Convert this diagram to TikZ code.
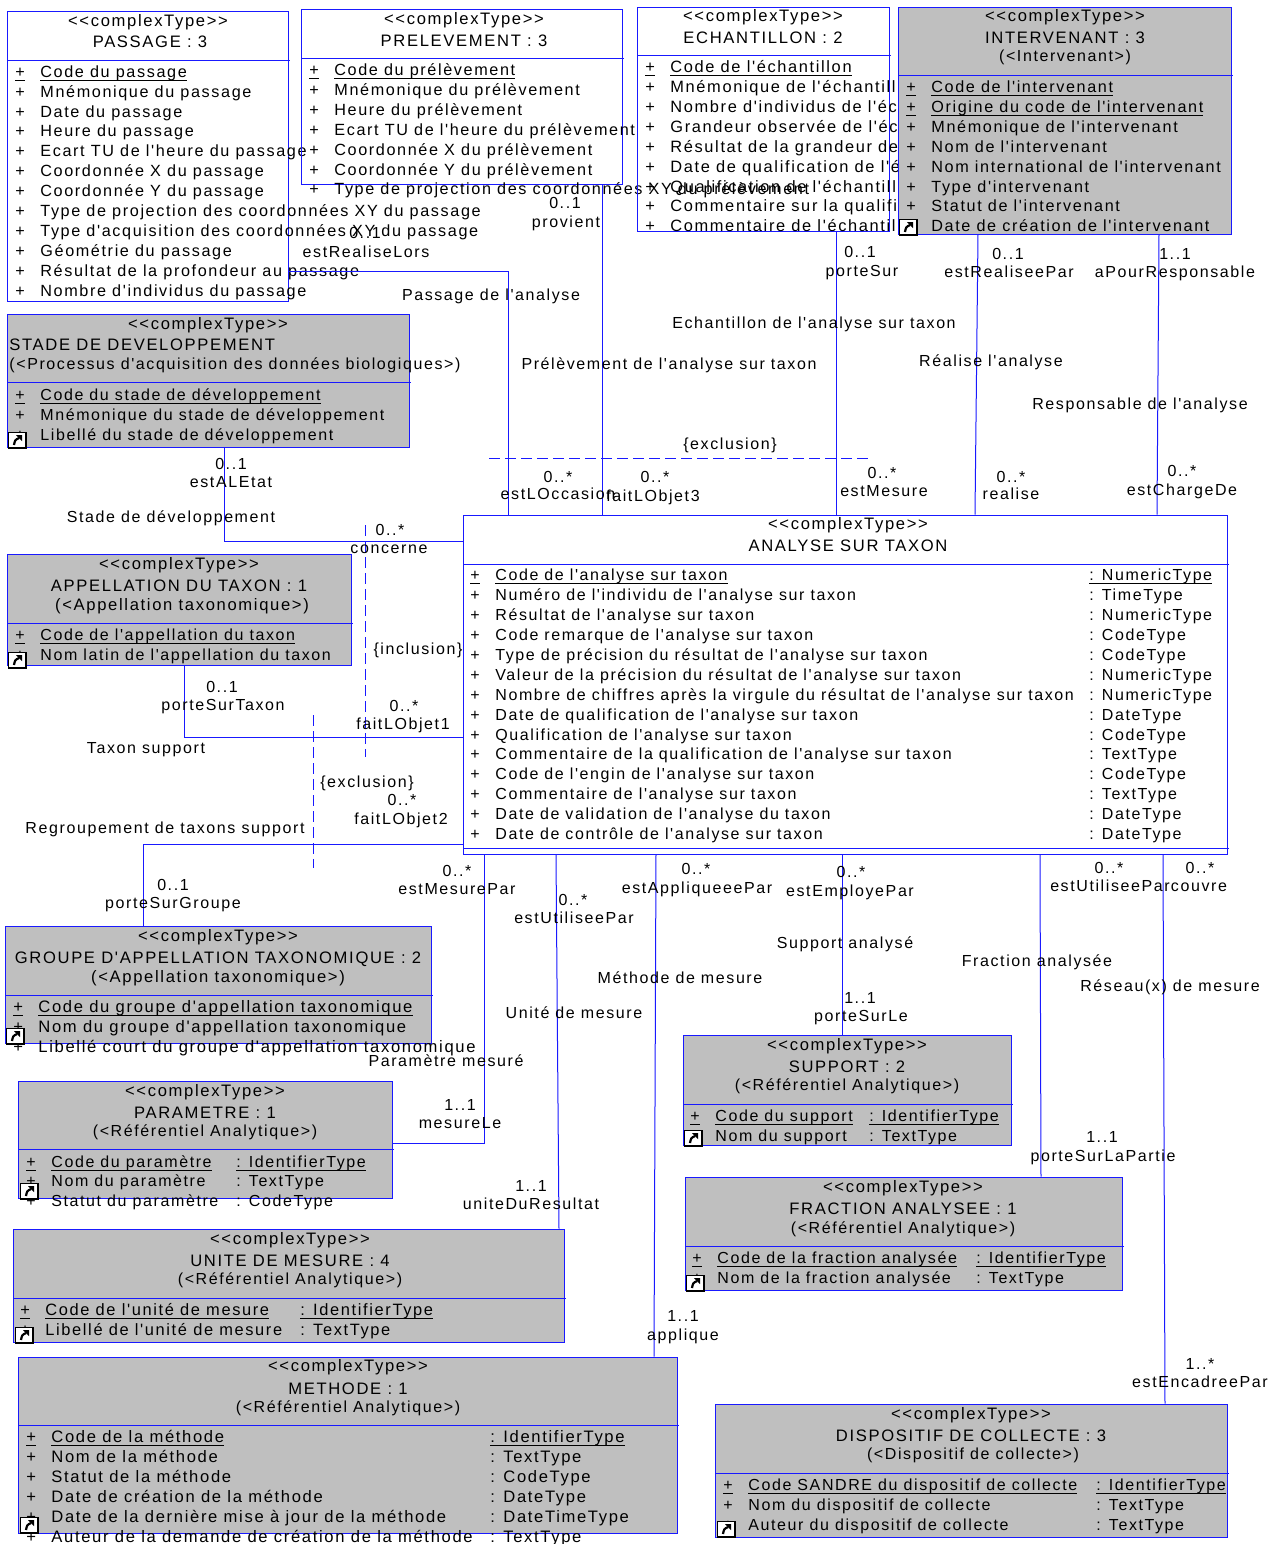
\documentclass[tikz,border=0pt]{standalone}
\usepackage{fontspec}
\setmainfont[LetterSpace=10,Ligatures=TeXOff]{Liberation Sans}
\usetikzlibrary{fit}
\definecolor{umlblue}{rgb}{0.1,0.1,1}
\definecolor{umlgray}{rgb}{0.75,0.75,0.75}
\newcommand{\ulin}[1]{\setbox0\hbox{#1}\rlap{\vrule width\wd0 height -1pt depth 1.4pt}\box0}
\tikzset{
every node/.style={font=\fontsize{8}{10}\selectfont,text=black},
uml/.style={color=umlblue,line width=0.5pt},
dashuml/.style={uml,dash pattern=on 5.5pt off 2.5pt},
whitebox/.style={draw=umlblue,line width=0.5pt,inner sep=0pt},
graybox/.style={whitebox,fill=umlgray},
lab/.style={anchor=base,inner sep=0pt,yshift=-2.8pt},
ttl/.style={lab,yshift=-0.3pt,font=\fontsize{8.3}{10}\selectfont},
attr/.style={anchor=base west,inner sep=0pt,yshift=-2.8pt},
wider/.style={attr/.append style={font=\fontsize{#1}{10}\selectfont}},
shortcut/.pic={
\draw[color=black,fill=white,line width=0.4pt] (-9,-8) rectangle (9,8);
\draw[color=black,line width=1pt] (-9,8) -- (9,8) -- (9,-8);
\fill[black] (-1,-5) -- (5,-5) -- (5,1) -- cycle;
\draw[color=black,line width=1.1pt] (2,-2) .. controls (-2,0) .. (-3,5);
}}
\begin{document}
\begin{tikzpicture}[x=0.5pt,y=-0.5pt]
\useasboundingbox (0,0) rectangle (1271,1544);
% white classes
\begin{scope}[wider=8.1]
\node[whitebox,fit={(7,11)(288,301)}] (passage) {};
\draw[uml] (7,60) -- (290,60);
\node[ttl] (passage-a) at (148,20) {<<complexType>>};
\node[ttl] (passage-b) at (150,41) {PASSAGE : 3};
\node[attr] (passage-c) at (15,72) {\ulin{+}};
\node[attr] (passage-d) at (40,72) {\ulin{Code du passage}};
\foreach \y/\lab in {92/Mnémonique du passage,112/Date du passage,131/Heure du passage,151/Ecart TU de l'heure du passage,171/Coordonnée X du passage,191/Coordonnée Y du passage,211/Type de projection des coordonnées XY du passage,231/Type d'acquisition des coordonnées XY du passage,251/Géométrie du passage,271/Résultat de la profondeur au passage,291/Nombre d'individus du passage}
{\node[attr] (passage-p\y) at (15,\y) {+};
\node[attr] (passage-r\y) at (40,\y) {\lab};}

\node[whitebox,fit={(301,9)(622,184)}] (prelevement) {};
\draw[uml] (301,58) -- (624,58);
\node[ttl] (prelevement-a) at (464,18) {<<complexType>>};
\node[ttl] (prelevement-b) at (464,40) {PRELEVEMENT : 3};
\node[attr] (prelevement-c) at (309,70) {\ulin{+}};
\node[attr] (prelevement-d) at (334,70) {\ulin{Code du prélèvement}};
\foreach \y/\lab in {90/Mnémonique du prélèvement,110/Heure du prélèvement,130/Ecart TU de l'heure du prélèvement,150/Coordonnée X du prélèvement,170/Coordonnée Y du prélèvement,189/Type de projection des coordonnées XY du prélèvement}
{\node[attr] (prelevement-p\y) at (309,\y) {+};
\node[attr] (prelevement-r\y) at (334,\y) {\lab};}
\end{scope}

\begin{scope}[wider=8.2]
\node[whitebox,fit={(637,7)(889,231)}] (echantillon) {};
\draw[uml] (637,55) -- (891,55);
\node[ttl] (echantillon-a) at (763,15) {<<complexType>>};
\node[ttl] (echantillon-b) at (763,37) {ECHANTILLON : 2};
\node[attr] (echantillon-c) at (645,67) {\ulin{+}};
\node[attr] (echantillon-d) at (670,67) {\ulin{Code de l'échantillon}};
\foreach \y/\lab in {87/Mnémonique de l'échantill,107/Nombre d'individus de l'éch,127/Grandeur observée de l'éch,147/Résultat de la grandeur de,167/Date de qualification de l'é,187/Qualification de l'échantill,206/Commentaire sur la qualifi,226/Commentaire de l'échantill}
{\node[attr] (echantillon-p\y) at (645,\y) {+};
\node[attr] (echantillon-r\y) at (670,\y) {\lab};}
\end{scope}

% gray classes
\begin{scope}[wider=8.1]
\node[graybox,fit={(898,7)(1231,234)}] (intervenant) {};
\draw[uml] (898,75) -- (1233,75);
\node[ttl] (intervenant-a) at (1065,15) {<<complexType>>};
\node[ttl] (intervenant-b) at (1065,37) {INTERVENANT : 3};
\node[lab] (intervenant-e) at (1065,56) {(<Intervenant>)};
\foreach \y/\lab in {87/Code de l'intervenant,107/Origine du code de l'intervenant}
{\node[attr] (intervenant-p\y) at (906,\y) {\ulin{+}};
\node[attr] (intervenant-r\y) at (931,\y) {\ulin{\lab}};}
\foreach \y/\lab in {127/Mnémonique de l'intervenant,147/Nom de l'intervenant,167/Nom international de l'intervenant,187/Type d'intervenant,206/Statut de l'intervenant,226/Date de création de l'intervenant}
{\node[attr] (intervenant-p\y) at (906,\y) {+};
\node[attr] (intervenant-r\y) at (931,\y) {\lab};}
\pic at (908,227) {shortcut};
\end{scope}

\node[graybox,fit={(7,314)(409,447)}] (stade) {};
\draw[uml] (7,382) -- (411,382);
\node[ttl] (stade-a) at (208,323) {<<complexType>>};
\node[attr,font=\fontsize{8.3}{10}\selectfont] (stade-b) at (9,345) {STADE DE DEVELOPPEMENT};
\node[attr] (stade-e) at (9,364) {(<Processus d'acquisition des données biologiques>)};
\node[attr] (stade-c) at (15,395) {\ulin{+}};
\node[attr] (stade-d) at (40,395) {\ulin{Code du stade de développement}};
\foreach \y/\lab in {415/Mnémonique du stade de développement,435/Libellé du stade de développement}
{\node[attr] (stade-p\y) at (15,\y) {+};
\node[attr] (stade-r\y) at (40,\y) {\lab};}
\pic at (17,440) {shortcut};

\node[graybox,fit={(7,554)(351,665)}] (appellation) {};
\draw[uml] (7,623) -- (353,623);
\node[ttl] (appellation-a) at (179,563) {<<complexType>>};
\node[ttl] (appellation-b) at (179,585) {APPELLATION DU TAXON : 1};
\node[ttl] (appellation-e) at (182,604) {(<Appellation taxonomique>)};
\node[attr] (appellation-c) at (15,635) {\ulin{+}};
\node[attr] (appellation-d) at (40,635) {\ulin{Code de l'appellation du taxon}};
\node[attr] (appellation-p) at (15,655) {+};
\node[attr] (appellation-r) at (40,655) {Nom latin de l'appellation du taxon};
\pic at (17,660) {shortcut};

\node[whitebox,fit={(463,515)(1227,854)}] (analyse) {};
\draw[uml] (463,564) -- (1229,564);
\draw[uml] (463,848) -- (1229,848);
\node[ttl] (analyse-a) at (848,523) {<<complexType>>};
\node[ttl] (analyse-b) at (848,545) {ANALYSE SUR TAXON};
\node[attr] (analyse-c) at (470,575) {\ulin{+}};
\node[attr] (analyse-d) at (495,575) {\ulin{Code de l'analyse sur taxon}};
\node[attr] (analyse-f) at (1089,575) {\ulin{: NumericType}};
\foreach \y/\lab/\typ in {595/Numéro de l'individu de l'analyse sur taxon/: TimeType,615/Résultat de l'analyse sur taxon/: NumericType,635/Code remarque de l'analyse sur taxon/: CodeType,655/Type de précision du résultat de l'analyse sur taxon/: CodeType,675/Valeur de la précision du résultat de l'analyse sur taxon/: NumericType,695/Nombre de chiffres après la virgule du résultat de l'analyse sur taxon/: NumericType,715/Date de qualification de l'analyse sur taxon/: DateType,735/Qualification de l'analyse sur taxon/: CodeType,754/Commentaire de la qualification de l'analyse sur taxon/: TextType,774/Code de l'engin de l'analyse sur taxon/: CodeType,794/Commentaire de l'analyse sur taxon/: TextType,814/Date de validation de l'analyse du taxon/: DateType,834/Date de contrôle de l'analyse sur taxon/: DateType}
{\node[attr] (analyse-p\y) at (470,\y) {+};
\node[attr] (analyse-r\y) at (495,\y) {\lab};
\node[attr] (analyse-t\y) at (1089,\y) {\typ};}

\begin{scope}[wider=8.3]
\node[graybox,fit={(5,926)(431,1043)}] (groupe) {};
\draw[uml] (5,995) -- (433,995);
\node[ttl] (groupe-a) at (218,935) {<<complexType>>};
\node[ttl] (groupe-b) at (218,957) {GROUPE D'APPELLATION TAXONOMIQUE : 2};
\node[ttl] (groupe-e) at (218,976) {(<Appellation taxonomique>)};
\node[attr] (groupe-c) at (13,1007) {\ulin{+}};
\node[attr] (groupe-d) at (38,1007) {\ulin{Code du groupe d'appellation taxonomique}};
\foreach \y/\lab in {1027/Nom du groupe d'appellation taxonomique,1047/Libellé court du groupe d'appellation taxonomique}
{\node[attr] (groupe-p\y) at (13,\y) {+};
\node[attr] (groupe-r\y) at (38,\y) {\lab};}
\pic at (15,1036) {shortcut};
\end{scope}

\node[graybox,fit={(18,1081)(392,1198)}] (parametre) {};
\draw[uml] (18,1149) -- (394,1149);
\node[ttl] (parametre-a) at (205,1090) {<<complexType>>};
\node[ttl] (parametre-b) at (205,1112) {PARAMETRE : 1};
\node[lab] (parametre-e) at (205,1131) {(<Référentiel Analytique>)};
\node[attr] (parametre-c) at (26,1162) {\ulin{+}};
\node[attr] (parametre-d) at (51,1162) {\ulin{Code du paramètre}};
\node[attr] (parametre-f) at (236,1162) {\ulin{: IdentifierType}};
\foreach \y/\lab/\typ in {1181/Nom du paramètre/: TextType,1201/Statut du paramètre/: CodeType}
{\node[attr] (parametre-p\y) at (26,\y) {+};
\node[attr] (parametre-r\y) at (51,\y) {\lab};
\node[attr] (parametre-t\y) at (236,\y) {\typ};}
\pic at (29,1191) {shortcut};

\begin{scope}[wider=8.2]
\node[graybox,fit={(13,1229)(564,1342)}] (unite) {};
\draw[uml] (13,1298) -- (566,1298);
\node[ttl] (unite-a) at (290,1238) {<<complexType>>};
\node[ttl] (unite-b) at (290,1260) {UNITE DE MESURE : 4};
\node[lab] (unite-e) at (290,1279) {(<Référentiel Analytique>)};
\node[attr] (unite-c) at (20,1310) {\ulin{+}};
\node[attr] (unite-d) at (45,1310) {\ulin{Code de l'unité de mesure}};
\node[attr] (unite-f) at (300,1310) {\ulin{: IdentifierType}};
\node[attr] (unite-p) at (20,1330) {+};
\node[attr] (unite-r) at (45,1330) {Libellé de l'unité de mesure};
\node[attr] (unite-t) at (300,1330) {: TextType};
\pic at (24,1335) {shortcut};
\end{scope}

\begin{scope}[wider=8.3]
\node[graybox,fit={(18,1357)(677,1533)}] (methode) {};
\draw[uml] (18,1425) -- (679,1425);
\node[ttl] (methode-a) at (348,1365) {<<complexType>>};
\node[ttl] (methode-b) at (348,1388) {METHODE : 1};
\node[lab] (methode-e) at (348,1407) {(<Référentiel Analytique>)};
\node[attr] (methode-c) at (26,1437) {\ulin{+}};
\node[attr] (methode-d) at (51,1437) {\ulin{Code de la méthode}};
\node[attr] (methode-f) at (490,1437) {\ulin{: IdentifierType}};
\foreach \y/\lab/\typ in {1457/Nom de la méthode/: TextType,1477/Statut de la méthode/: CodeType,1497/Date de création de la méthode/: DateType,1517/Date de la dernière mise à jour de la méthode/: DateTimeType,1537/Auteur de la demande de création de la méthode/: TextType}
{\node[attr] (methode-p\y) at (26,\y) {+};
\node[attr] (methode-r\y) at (51,\y) {\lab};
\node[attr] (methode-t\y) at (490,\y) {\typ};}
\pic at (29,1525) {shortcut};
\end{scope}

\node[graybox,fit={(683,1035)(1011,1145)}] (support) {};
\draw[uml] (683,1104) -- (1013,1104);
\node[ttl] (support-a) at (847,1044) {<<complexType>>};
\node[ttl] (support-b) at (847,1066) {SUPPORT : 2};
\node[lab] (support-e) at (847,1085) {(<Référentiel Analytique>)};
\node[attr] (support-c) at (690,1116) {\ulin{+}};
\node[attr] (support-d) at (715,1116) {\ulin{Code du support}};
\node[attr] (support-f) at (869,1116) {\ulin{: IdentifierType}};
\node[attr] (support-p) at (690,1136) {+};
\node[attr] (support-r) at (715,1136) {Nom du support};
\node[attr] (support-t) at (869,1136) {: TextType};
\pic at (693,1138) {shortcut};

\node[graybox,fit={(685,1177)(1122,1290)}] (fraction) {};
\draw[uml] (685,1246) -- (1124,1246);
\node[ttl] (fraction-a) at (903,1186) {<<complexType>>};
\node[ttl] (fraction-b) at (903,1208) {FRACTION ANALYSEE : 1};
\node[lab] (fraction-e) at (903,1228) {(<Référentiel Analytique>)};
\node[attr] (fraction-c) at (692,1258) {\ulin{+}};
\node[attr] (fraction-d) at (717,1258) {\ulin{Code de la fraction analysée}};
\node[attr] (fraction-f) at (976,1258) {\ulin{: IdentifierType}};
\node[attr] (fraction-p) at (692,1278) {+};
\node[attr] (fraction-r) at (717,1278) {Nom de la fraction analysée};
\node[attr] (fraction-t) at (976,1278) {: TextType};
\pic at (695,1283) {shortcut};

\node[graybox,fit={(715,1404)(1227,1537)}] (dispositif) {};
\draw[uml] (715,1473) -- (1229,1473);
\node[ttl] (dispositif-a) at (971,1413) {<<complexType>>};
\node[ttl] (dispositif-b) at (971,1435) {DISPOSITIF DE COLLECTE : 3};
\node[lab] (dispositif-e) at (973,1454) {(<Dispositif de collecte>)};
\node[attr] (dispositif-c) at (723,1485) {\ulin{+}};
\node[attr] (dispositif-d) at (748,1485) {\ulin{Code SANDRE du dispositif de collecte}};
\node[attr] (dispositif-f) at (1096,1485) {\ulin{: IdentifierType}};
\foreach \y/\lab/\typ in {1505/Nom du dispositif de collecte/: TextType,1525/Auteur du dispositif de collecte/: TextType}
{\node[attr] (dispositif-p\y) at (723,\y) {+};
\node[attr] (dispositif-r\y) at (748,\y) {\lab};
\node[attr] (dispositif-t\y) at (1096,\y) {\typ};}
\pic at (726,1529) {shortcut};

% connectors
\draw[uml] (passage.east |- 0,271) -| (analyse.north -| 508,0);
\draw[uml] (prelevement.south -| 602,0) -- (analyse.north -| 602,0);
\draw[uml] (echantillon.south -| 836,0) -- (analyse.north -| 836,0);
\draw[uml] (intervenant.south -| 978,0) -- (analyse.north -| 975,0);
\draw[uml] (intervenant.south -| 1159,0) -- (analyse.north -| 1157,0);
\draw[uml] (stade.south -| 224,0) |- (analyse.west |- 0,541);
\draw[uml] (appellation.south -| 184,0) |- (analyse.west |- 0,737);
\draw[uml] (groupe.north -| 143,0) |- (analyse.west |- 0,844);
\draw[uml] (parametre.east |- 0,1143) -| (analyse.south -| 484,0);
\draw[uml] (unite.north -| 559,0) -- (analyse.south -| 556,0);
\draw[uml] (methode.north -| 654,0) -- (analyse.south -| 656,0);
\draw[uml] (support.north -| 842,0) -- (analyse.south -| 842,0);
\draw[uml] (fraction.north -| 1041,0) -- (analyse.south -| 1040,0);
\draw[uml] (dispositif.north -| 1165,0) -- (analyse.south -| 1163,0);
\draw[dashuml] (489,458) -- (872,458);
\draw[dashuml] (365,525) -- (365,757);
\draw[dashuml] (313,715) -- (313,868);

% labels of the links
\foreach \n/\x/\y/\lab in {l1/565/203/0..1,l2/566/222/provient,l3/365/233/0..1,l4/366/252/estRealiseLors,l5/491/295/Passage de l'analyse,l6/669/364/Prélèvement de l'analyse sur taxon,l7/814/323/Echantillon de l'analyse sur taxon,l8/860/252/0..1,l9/862/271/porteSur,l10/1008/254/0..1,l11/1009/272/estRealiseePar,l12/1175/254/1..1,l13/1175/272/aPourResponsable,l14/991/361/Réalise l'analyse,l15/1140/404/Responsable de l'analyse,l16/730/444/\{exclusion\},l17/558/477/0..*,l18/558/494/estLOccasion,l19/655/477/0..*,l20/653/496/faitLObjet3,l21/882/473/0..*,l22/884/491/estMesure,l23/1011/477/0..*,l24/1011/494/realise,l25/1182/471/0..*,l26/1182/490/estChargeDe,l27/231/464/0..1,l28/231/482/estALEtat,l29/171/517/Stade de développement,l30/390/530/0..*,l31/389/548/concerne,l32/418/649/\{inclusion\},l33/222/687/0..1,l34/223/705/porteSurTaxon,l35/404/706/0..*,l36/403/724/faitLObjet1,l37/146/748/Taxon support,l38/367/782/\{exclusion\},l39/402/800/0..*,l40/401/819/faitLObjet2,l41/165/828/Regroupement de taxons support,l42/173/885/0..1,l43/173/903/porteSurGroupe,l44/457/871/0..*,l45/457/889/estMesurePar,l46/573/900/0..*,l47/574/918/estUtiliseePar,l48/696/869/0..*,l49/697/888/estAppliqueeePar,l50/851/872/0..*,l51/850/891/estEmployePar,l52/1109/868/0..*,l53/1110/886/estUtiliseePar,l54/1200/868/0..*,l55/1199/886/couvre,l56/845/943/Support analysé,l57/1037/961/Fraction analysée,l58/1170/986/Réseau(x) de mesure,l59/680/978/Méthode de mesure,l60/574/1013/Unité de mesure,l61/446/1061/Paramètre mesuré,l62/860/998/1..1,l63/861/1016/porteSurLe,l64/460/1105/1..1,l65/460/1123/mesureLe,l66/531/1186/1..1,l67/531/1204/uniteDuResultat,l68/1102/1137/1..1,l69/1103/1156/porteSurLaPartie,l70/683/1316/1..1,l71/683/1335/applique,l72/1200/1364/1..*,l73/1200/1382/estEncadreePar}
\node[lab] (\n) at (\x,\y) {\lab};
\end{tikzpicture}
\end{document}
